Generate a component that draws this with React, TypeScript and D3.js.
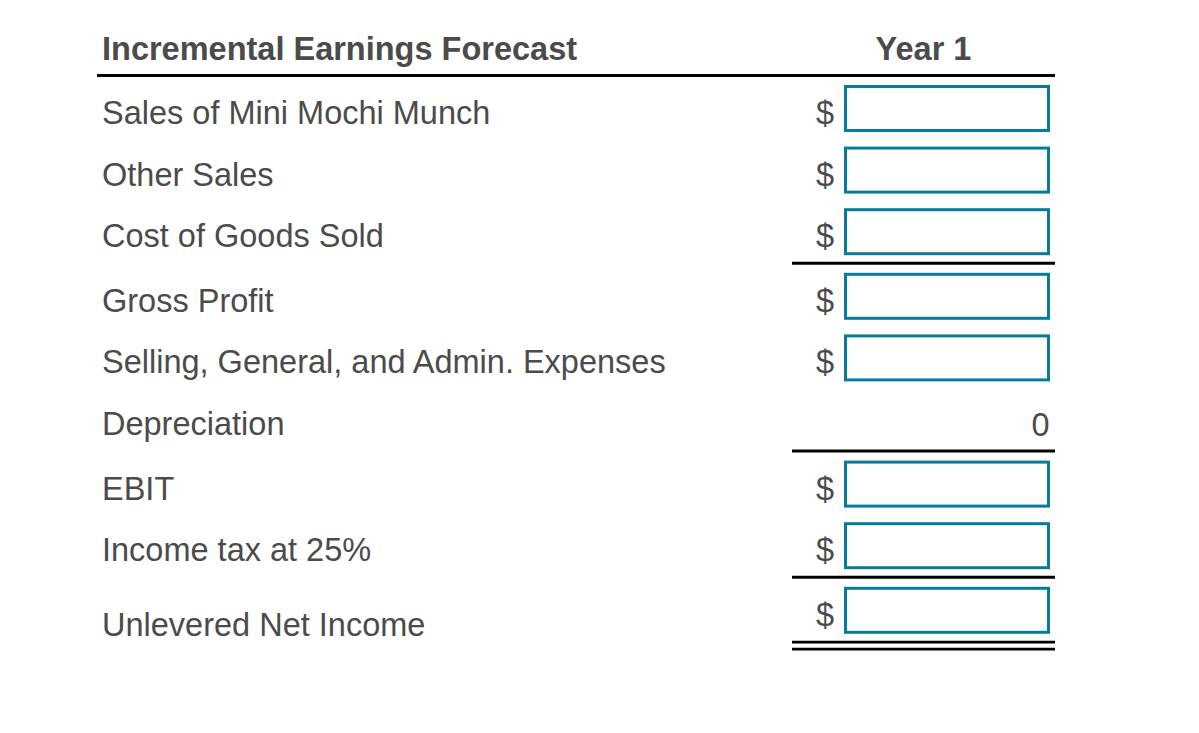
import React from "react";
import * as d3 from "d3";

// ---- data ----
const title = "Incremental Earnings Forecast";
const columnLabel = "Year 1";
const rowLabels = [
  "Sales of Mini Mochi Munch",
  "Other Sales",
  "Cost of Goods Sold",
  "Gross Profit",
  "Selling, General, and Admin. Expenses",
  "Depreciation",
  "EBIT",
  "Income tax at 25%",
  "Unlevered Net Income",
];
// null = input box with "$", otherwise a printed value
const rowValues: (string | null)[] = [null, null, null, null, null, "0", null, null, null];
// subtotal rule drawn above these row indices
const rulesAbove = [3, 6, 8];
// double rule below the last row
const doubleRuleBelow = [8];

// ---- layout ----
const W = 1199;
const H = 733;
const left = 97;
const right = 1055;
const colLeft = 792;
const boxX0 = 844;
const boxX1 = 1050;
const boxH = 47;
const firstBoxTop = 85;
const rowPitch = 61.6;
const ruleGap = 3;
const fs = 32.5;
const textColor = "#4b4b4b";
const teal = "#077b99";
const font = "'Liberation Sans', Arial, sans-serif";

export default function App() {
  const yIndex = d3.scaleLinear().domain([0, 1]).range([firstBoxTop, firstBoxTop + rowPitch]);
  const boxTop = (i: number) => yIndex(i) + ruleGap * rulesAbove.filter((r) => r <= i).length;
  const colCenter = (colLeft + right) / 2;

  return (
    <div style={{ position: "absolute", left: 0, top: 0, width: W, height: H, background: "#fff" }}>
      <svg width={W} height={H} style={{ display: "block" }} fontFamily={font}>
        <rect x={0} y={0} width={W} height={H} fill="#fff" />
        <text x={102} y={60} fontSize={fs} fontWeight="bold" fill={textColor}>
          {title}
        </text>
        <text x={colCenter} y={60} fontSize={fs} fontWeight="bold" fill={textColor} textAnchor="middle">
          {columnLabel}
        </text>
        <line x1={left} x2={right} y1={75.5} y2={75.5} stroke="#000" strokeWidth={3} />

        {rowLabels.map((label, i) => {
          const top = boxTop(i);
          const isLast = i === rowLabels.length - 1;
          const labelY = isLast ? top + 49.5 : top + 39;
          const v = rowValues[i];
          return (
            <g key={label}>
              <text x={102} y={labelY} fontSize={fs} fill={textColor}>
                {label}
              </text>
              {v === null ? (
                <>
                  <text x={834} y={top + 39} fontSize={fs} fill={textColor} textAnchor="end">
                    $
                  </text>
                  <rect
                    x={boxX0 + 1.5}
                    y={top + 1.5}
                    width={boxX1 - boxX0 - 3}
                    height={boxH - 3}
                    fill="#fff"
                    stroke={teal}
                    strokeWidth={3}
                  />
                </>
              ) : (
                <text x={1049.5} y={top + 39.5} fontSize={fs} fill={textColor} textAnchor="end">
                  {v}
                </text>
              )}
            </g>
          );
        })}

        {rulesAbove.map((r) => {
          const y = boxTop(r) - 9.5;
          return <line key={"r" + r} x1={colLeft} x2={right} y1={y} y2={y} stroke="#000" strokeWidth={3} />;
        })}

        {doubleRuleBelow.map((r) => {
          const b = boxTop(r) + boxH;
          return (
            <g key={"d" + r}>
              <line x1={colLeft} x2={right} y1={b + 8.3} y2={b + 8.3} stroke="#000" strokeWidth={2.7} />
              <line x1={colLeft} x2={right} y1={b + 15.3} y2={b + 15.3} stroke="#000" strokeWidth={2.7} />
            </g>
          );
        })}
      </svg>
    </div>
  );
}
